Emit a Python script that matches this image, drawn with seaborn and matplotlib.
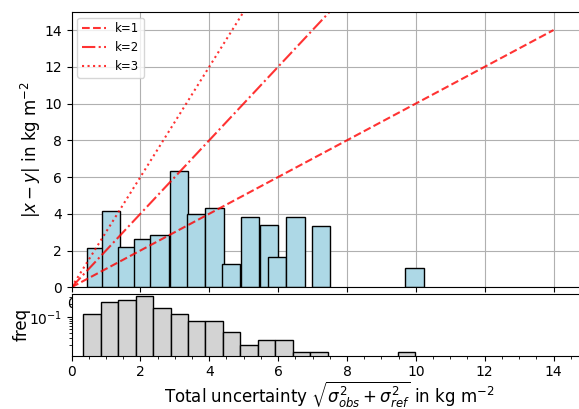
import numpy as np
import pandas as pd
import matplotlib
matplotlib.use("Agg")
import matplotlib.pyplot as plt
from matplotlib.ticker import AutoMinorLocator
import seaborn as sns

# Top panel: mean |x-y| per uncertainty bin (bar left edges / heights)
bar_left = [0.455, 0.89, 1.345, 1.81, 2.29, 2.855, 3.36, 3.89, 4.37, 4.91, 5.46, 5.70, 6.24, 6.99, 9.70]
bar_height = [2.15, 4.16, 2.2, 2.62, 2.85, 6.33, 3.98, 4.31, 1.24, 3.84, 3.38, 1.64, 3.84, 3.33, 1.06]

# Bottom panel: frequency histogram of total uncertainty
bin_edges = [0.34, 0.85, 1.36, 1.86, 2.37, 2.88, 3.38, 3.89, 4.40, 4.90, 5.41,
             5.92, 6.42, 6.93, 7.44, 7.95, 8.45, 8.96, 9.47, 9.97]
freq = [0.1164, 0.2245, 0.251, 0.3145, 0.160, 0.1164, 0.0785, 0.0785, 0.0417,
        0.0204, 0.027, 0.027, 0.01355, 0.01355, 0.0, 0.0, 0.0, 0.0, 0.01355]

# Reference lines |x-y| = k * sigma
k_values = [1, 2, 3]
line_x = [0, 14]

fig = plt.figure(figsize=(5.79, 4.09), dpi=100)
ax1 = fig.add_axes([0.1235, 0.2976, 0.892, 0.6738])
ax2 = fig.add_axes([0.1235, 0.1303, 0.892, 0.1509])

ax1.set_axisbelow(True)
ax1.grid(True, color="#b0b0b0", linewidth=0.8)
bar_w = 0.53
ax1.bar(bar_left, bar_height, width=bar_w, align="edge",
        color="lightblue", edgecolor="black", linewidth=1.0)

styles = {1: "--", 2: "-.", 3: ":"}
for k in k_values:
    df = pd.DataFrame({"x": line_x, "y": [k * v for v in line_x]})
    sns.lineplot(data=df, x="x", y="y", ax=ax1, color="red", alpha=0.8,
                 linestyle=styles[k], linewidth=1.5, label=f"k={k}")
ax1.set_xlim(0, 15)
ax1.set_ylim(0, 15)
ax1.set_xticks(np.arange(0, 15, 2))
ax1.set_yticks(np.arange(0, 15, 2))
ax1.set_xlabel("")
ax1.set_ylabel(r"$|x-y|$ in kg m$^{-2}$", fontsize=12, labelpad=0.8)
ax1.legend(loc="upper left", fontsize=8.5)

centers = [(bin_edges[i] + bin_edges[i + 1]) / 2 for i in range(len(freq))]
hist_df = pd.DataFrame({"x": centers, "w": freq})
ax2.set_yscale("log")
sns.histplot(data=hist_df, x="x", weights="w", bins=bin_edges, ax=ax2,
             color="lightgray", edgecolor="black", alpha=1.0, linewidth=1.0)
ax2.set_xlim(0, 15)
ax2.set_ylim(0.0112, 0.36)
ax2.set_xticks(np.arange(0, 15, 2))
ax2.xaxis.set_minor_locator(AutoMinorLocator())
ax2.set_ylabel("freq", fontsize=12, labelpad=-1.8)
ax2.set_xlabel(r"Total uncertainty $\sqrt{\sigma_{obs}^2+\sigma_{ref}^2}$ in kg m$^{-2}$",
               fontsize=12, labelpad=0.5)

fig.savefig("out.png", dpi=100)
